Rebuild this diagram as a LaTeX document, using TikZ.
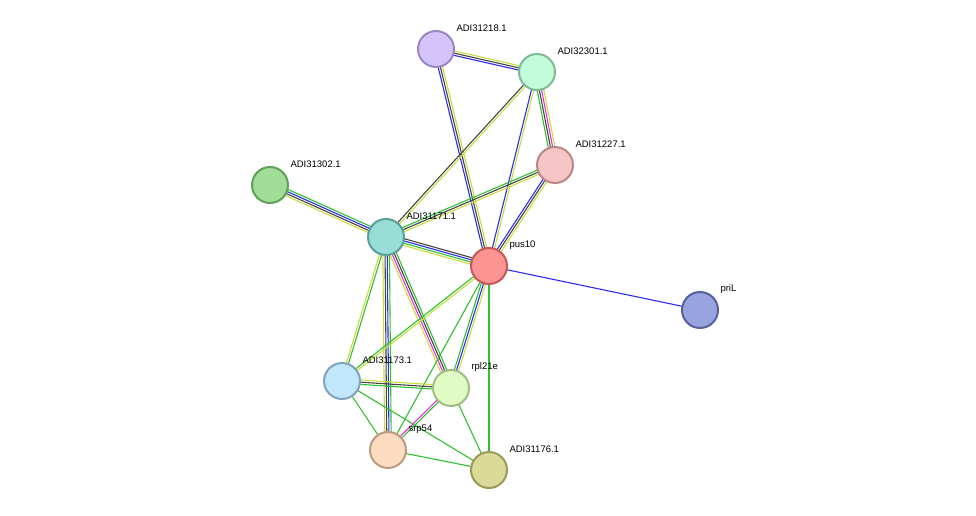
\documentclass[tikz,border=0pt]{standalone}
\usepackage{fontspec}
\setmainfont{Liberation Sans}
\usetikzlibrary{calc}
\definecolor{eblue}{HTML}{2C2CF0}
\definecolor{eblack}{HTML}{444444}
\definecolor{eyellow}{HTML}{C8DC3C}
\definecolor{egreen}{HTML}{30C030}
\definecolor{emag}{HTML}{E030E0}
% node fill / border colours
\definecolor{f18}{HTML}{D4C4FC}\definecolor{d18}{HTML}{9B86C6}
\definecolor{f01}{HTML}{C2FCDA}\definecolor{d01}{HTML}{80B898}
\definecolor{f27}{HTML}{F6C6C6}\definecolor{d27}{HTML}{B88888}
\definecolor{f02}{HTML}{A0DE98}\definecolor{d02}{HTML}{60A058}
\definecolor{f71}{HTML}{98DED6}\definecolor{d71}{HTML}{58A09A}
\definecolor{fpus}{HTML}{FC9494}\definecolor{dpus}{HTML}{C85858}
\definecolor{fpri}{HTML}{98A4DE}\definecolor{dpri}{HTML}{5860A0}
\definecolor{f73}{HTML}{C2E6FC}\definecolor{d73}{HTML}{80A4C0}
\definecolor{frpl}{HTML}{E0FCC4}\definecolor{drpl}{HTML}{A0BC84}
\definecolor{fsrp}{HTML}{FCDCC0}\definecolor{dsrp}{HTML}{BC9C80}
\definecolor{f76}{HTML}{DCDA98}\definecolor{d76}{HTML}{9C9A58}
\tikzset{
  prot/.style={circle, minimum size=36pt, inner sep=0pt, line width=2pt, fill=f#1, draw=d#1},
  lbl/.style={anchor=west, font=\fontsize{9.5}{11}\selectfont},
}
% multi-coloured edge between two named points
\newcommand{\pedge}[3]{%
  \foreach \c [count=\i] in {#3} {\xdef\nn{\i}}%
  \foreach \c [count=\i] in {#3} {%
    \pgfmathsetmacro{\off}{(\i-(\nn+1)/2)*2.2}%
    \draw[\c, line width=1.1pt] ($(#1)!\off pt!90:(#2)$) -- ($(#2)!\off pt!-90:(#1)$);
  }}
\begin{document}
\begin{tikzpicture}[x=1pt,y=-1pt]
  \useasboundingbox (0,0) rectangle (976,516);

  % protein positions
  \coordinate (a18) at (436,49);
  \coordinate (a01) at (537,72);
  \coordinate (a27) at (555,165);
  \coordinate (a02) at (270,185);
  \coordinate (a71) at (386,237);
  \coordinate (pus) at (489,266);
  \coordinate (pri) at (700,310);
  \coordinate (a73) at (342,381);
  \coordinate (rpl) at (451,388);
  \coordinate (srp) at (388,450);
  \coordinate (a76) at (489,470);

  % edges
  \pedge{a18}{a01}{eblue,eblack,eyellow}
  \pedge{a18}{pus}{eblue,eblack,eyellow}
  \pedge{a01}{a71}{eblack,eyellow}
  \pedge{a01}{pus}{eblue,eyellow}
  \pedge{a01}{a27}{egreen,eblack,emag,eyellow}
  \pedge{a27}{a71}{egreen,eblack,eyellow}
  \pedge{a27}{pus}{eblue,eblack,eyellow}
  \pedge{a02}{a71}{eyellow,eblack,eblue,egreen}
  \pedge{a71}{pus}{eyellow,egreen,eblue,eblack}
  \pedge{a71}{a73}{eyellow,egreen}
  \pedge{a71}{srp}{eyellow,eblack,eblue,egreen}
  \pedge{a71}{rpl}{eyellow,emag,eblack,egreen}
  \pedge{pus}{a73}{egreen,eyellow}
  \pedge{pus}{rpl}{egreen,eblue,eyellow}
  \pedge{pus}{srp}{egreen}
  \pedge{pus}{a76}{egreen}
  \pedge{pus}{pri}{eblue}
  \pedge{a73}{rpl}{egreen,eblack,eyellow}
  \pedge{a73}{srp}{egreen}
  \pedge{a73}{a76}{egreen}
  \pedge{rpl}{srp}{emag,egreen}
  \pedge{rpl}{a76}{egreen}
  \pedge{srp}{a76}{egreen}

  % proteins
  \node[prot=18] (n18) at (a18) {};
  \node[prot=01] (n01) at (a01) {};
  \node[prot=27] (n27) at (a27) {};
  \node[prot=02] (n02) at (a02) {};
  \node[prot=71] (n71) at (a71) {};
  \node[prot=pus] (npus) at (pus) {};
  \node[prot=pri] (npri) at (pri) {};
  \node[prot=73] (n73) at (a73) {};
  \node[prot=rpl] (nrpl) at (rpl) {};
  \node[prot=srp] (nsrp) at (srp) {};
  \node[prot=76] (n76) at (a76) {};

  % labels
  \node[lbl] at ($(a18)+(17,-21)$) {ADI31218.1};
  \node[lbl] at ($(a01)+(17,-21)$) {ADI32301.1};
  \node[lbl] at ($(a27)+(17,-21)$) {ADI31227.1};
  \node[lbl] at ($(a02)+(17,-21)$) {ADI31302.1};
  \node[lbl] at ($(a71)+(17,-21)$) {ADI31171.1};
  \node[lbl] at ($(pus)+(17,-21)$) {pus10};
  \node[lbl] at ($(pri)+(17,-21)$) {priL};
  \node[lbl] at ($(a73)+(17,-21)$) {ADI31173.1};
  \node[lbl] at ($(rpl)+(17,-21)$) {rpl21e};
  \node[lbl] at ($(srp)+(17,-21)$) {srp54};
  \node[lbl] at ($(a76)+(17,-21)$) {ADI31176.1};
\end{tikzpicture}
\end{document}
